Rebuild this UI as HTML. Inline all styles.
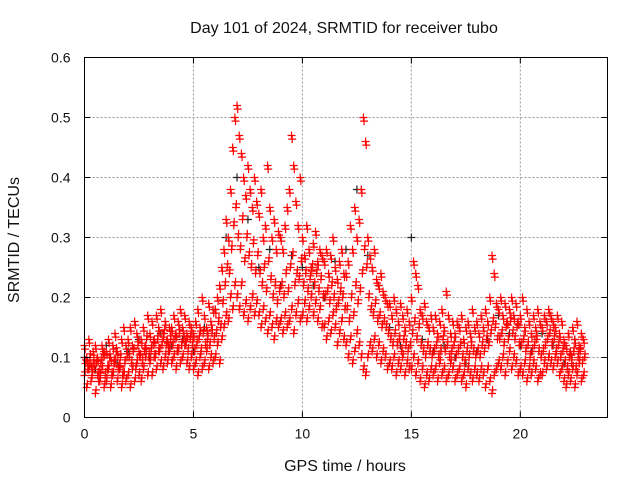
<!DOCTYPE html>
<html><head><meta charset="utf-8"><style>
html,body{margin:0;padding:0;background:#fff;}
svg{display:block;font-family:"Liberation Sans",sans-serif;}
</style></head><body>
<svg id="chart" width="640" height="480">
<g id="grid"></g>
<g id="black"></g>
<g id="red"></g>
<rect x="84.5" y="57.5" width="523" height="360" fill="none" stroke="#000" stroke-width="1"/>
<g id="ticks"></g>
<text x="344" y="33" font-size="16" text-anchor="middle" fill="#111">Day 101 of 2024, SRMTID for receiver tubo</text>
<text x="345" y="471" font-size="16" text-anchor="middle" fill="#111">GPS time / hours</text>
<text x="19" y="240" font-size="16" text-anchor="middle" fill="#111" transform="rotate(-90 19 240)">SRMTID / TECUs</text>
</svg>
<script>
const xTicks=[0,5,10,15,20];
const yTicks=[0,0.1,0.2,0.3,0.4,0.5,0.6];
const yTickLabels=["0","0.1","0.2","0.3","0.4","0.5","0.6"];
const redT=[0,0.1,0.2,0.3,0.4,0.5,0.6,0.7,0.8,0.9,1,1.1,1.2,1.3,1.4,1.5,1.6,1.7,1.8,1.9,2,2.1,2.2,2.3,2.4,2.5,2.6,2.7,2.8,2.9,3,3.1,3.2,3.3,3.4,3.5,3.6,3.7,3.8,3.9,4,4.1,4.2,4.3,4.4,4.5,4.6,4.7,4.8,4.9,5,5.1,5.2,5.3,5.4,5.5,5.6,5.7,5.8,5.9,6,6.1,6.2,6.3,6.4,6.5,6.6,6.7,6.8,6.9,7,7.1,7.2,7.3,7.4,7.5,7.6,7.7,7.8,7.9,8,8.1,8.2,8.3,8.4,8.5,8.6,8.7,8.8,8.9,9,9.1,9.2,9.3,9.4,9.5,9.6,9.7,9.8,9.9,10,10.1,10.2,10.3,10.4,10.5,10.6,10.7,10.8,10.9,11,11.1,11.2,11.3,11.4,11.5,11.6,11.7,11.8,11.9,12,12.1,12.2,12.3,12.4,12.5,12.6,12.7,12.8,12.9,13,13.1,13.2,13.3,13.4,13.5,13.6,13.7,13.8,13.9,14,14.1,14.2,14.3,14.4,14.5,14.6,14.7,14.8,14.9,15,15.1,15.2,15.3,15.4,15.5,15.6,15.7,15.8,15.9,16,16.1,16.2,16.3,16.4,16.5,16.6,16.7,16.8,16.9,17,17.1,17.2,17.3,17.4,17.5,17.6,17.7,17.8,17.9,18,18.1,18.2,18.3,18.4,18.5,18.6,18.7,18.8,18.9,19,19.1,19.2,19.3,19.4,19.5,19.6,19.7,19.8,19.9,20,20.1,20.2,20.3,20.4,20.5,20.6,20.7,20.8,20.9,21,21.1,21.2,21.3,21.4,21.5,21.6,21.7,21.8,21.9,22,22.1,22.2,22.3,22.4,22.5,22.6,22.7,22.8,22.9];
const redA=[.07,.05,.08,.06,.09,.04,.07,.06,.08,.05,.06,.08,.05,.07,.09,.06,.08,.05,.07,.06,.07,.05,.08,.06,.09,.07,.06,.08,.10,.07,.09,.07,.10,.08,.11,.09,.08,.10,.09,.11,.09,.10,.08,.11,.09,.10,.12,.09,.08,.10,.08,.09,.07,.10,.08,.09,.11,.08,.10,.09,.10,.12,.09,.13,.15,.17,.16,.20,.18,.22,.20,.18,.22,.17,.19,.16,.18,.20,.17,.19,.17,.15,.18,.16,.14,.17,.15,.13,.16,.15,.16,.14,.17,.15,.16,.18,.14,.17,.19,.16,.17,.19,.16,.18,.20,.17,.19,.16,.18,.15,.15,.13,.16,.14,.17,.15,.12,.14,.16,.13,.12,.10,.13,.09,.11,.14,.12,.10,.08,.07,.10,.12,.11,.13,.10,.12,.09,.11,.10,.08,.09,.08,.10,.07,.09,.08,.10,.07,.09,.08,.08,.10,.07,.09,.06,.08,.05,.07,.06,.08,.07,.08,.06,.09,.07,.08,.06,.07,.09,.08,.06,.07,.08,.06,.07,.05,.08,.07,.06,.08,.07,.06,.08,.07,.05,.08,.06,.04,.07,.08,.09,.08,.10,.07,.09,.11,.08,.10,.09,.07,.08,.07,.09,.06,.08,.07,.09,.08,.06,.07,.07,.09,.08,.10,.09,.08,.10,.09,.07,.08,.06,.05,.07,.06,.08,.05,.07,.09,.06,.07];
const redB=[.12,.10,.13,.09,.11,.12,.10,.08,.12,.11,.11,.13,.10,.12,.14,.11,.09,.13,.15,.12,.13,.15,.12,.16,.14,.11,.13,.15,.12,.17,.14,.16,.13,.17,.15,.18,.14,.16,.13,.15,.15,.17,.14,.16,.18,.15,.17,.14,.16,.15,.14,.16,.18,.15,.20,.17,.15,.19,.16,.18,.18,.20,.22,.25,.28,.33,.30,.38,.45,.50,.52,.47,.44,.40,.37,.42,.38,.35,.40,.36,.34,.38,.30,.32,.42,.35,.30,.33,.28,.31,.30,.28,.32,.35,.38,.47,.42,.36,.32,.40,.30,.27,.32,.28,.25,.29,.31,.26,.28,.27,.26,.28,.24,.27,.30,.25,.23,.26,.28,.24,.24,.26,.32,.28,.35,.30,.33,.38,.50,.46,.30,.27,.25,.28,.23,.22,.24,.21,.20,.19,.19,.17,.20,.18,.16,.19,.17,.15,.18,.16,.20,.26,.24,.22,.18,.17,.19,.16,.15,.17,.15,.17,.14,.16,.18,.15,.21,.17,.14,.16,.14,.16,.15,.17,.13,.15,.16,.14,.18,.15,.16,.14,.17,.15,.18,.16,.20,.27,.24,.19,.18,.20,.17,.19,.16,.18,.20,.17,.19,.16,.17,.20,.15,.18,.16,.14,.17,.15,.18,.16,.15,.17,.16,.18,.17,.16,.15,.17,.14,.16,.13,.12,.14,.11,.15,.13,.16,.12,.14,.13];
const redC=[.09,.08,.10,.07,.08,.09,.06,.09,.10,.07,.08,.10,.07,.09,.11,.08,.10,.07,.09,.10,.10,.09,.11,.08,.12,.10,.09,.11,.13,.10,.11,.12,.10,.13,.11,.12,.14,.12,.11,.13,.12,.13,.11,.14,.12,.13,.12,.11,.13,.12,.11,.12,.13,.11,.14,.12,.13,.12,.14,.13,.14,.16,.15,.19,.22,.25,.24,.28,.32,.35,.30,.28,.33,.26,.30,.27,.25,.29,.24,.27,.24,.22,.25,.21,.26,.23,.20,.22,.19,.21,.22,.20,.24,.21,.25,.27,.22,.24,.23,.26,.22,.24,.21,.23,.25,.22,.24,.21,.23,.20,.20,.21,.19,.22,.20,.18,.19,.21,.20,.18,.18,.16,.20,.17,.22,.19,.21,.24,.28,.25,.20,.18,.17,.19,.16,.17,.15,.16,.15,.14,.13,.12,.14,.12,.13,.11,.13,.12,.11,.12,.14,.16,.13,.15,.12,.11,.10,.12,.11,.10,.11,.12,.10,.11,.13,.11,.12,.10,.11,.12,.10,.11,.12,.10,.09,.11,.10,.12,.11,.10,.11,.10,.12,.11,.13,.12,.14,.16,.15,.13,.13,.14,.12,.15,.13,.16,.14,.13,.15,.12,.12,.13,.11,.12,.10,.11,.12,.13,.11,.10,.11,.12,.13,.14,.12,.13,.11,.12,.10,.11,.09,.08,.10,.09,.11,.08,.10,.11,.09,.10];
const blackT=[0,0.5,1,1.5,2,2.5,3,3.5,4,4.5,5,5.5,6,6.5,7,7.5,8,8.5,9,9.5,10,10.5,11,11.5,12,12.5,13,13.5,14,14.5,15,15.5,16,16.5,17,17.5,18,18.5,19,19.5,20,20.5,21,21.5,22,22.5];
const blackV=[.10,.08,.12,.09,.11,.13,.10,.14,.12,.13,.11,.15,.18,.30,.40,.33,.25,.28,.22,.27,.25,.22,.20,.26,.28,.38,.27,.22,.15,.12,.30,.13,.11,.12,.10,.09,.11,.13,.17,.14,.12,.11,.14,.12,.09,.13];

const X0=84.5,X1=607.5,Y0=417.5,Y1=57.5;
const xs=t=>X0+(t/24)*(X1-X0);
const ys=v=>Y0-(v/0.6)*(Y0-Y1);
const NS="http://www.w3.org/2000/svg";
function mk(tag,attrs,parent){const e=document.createElementNS(NS,tag);for(const k in attrs)e.setAttribute(k,attrs[k]);parent.appendChild(e);return e;}
const grid=document.getElementById('grid'),ticks=document.getElementById('ticks');
xTicks.forEach(t=>{const x=xs(t);
 if(t>0){const g=mk('line',{x1:x,x2:x,y1:Y1,y2:Y0,stroke:'#999','stroke-dasharray':'2,2'},grid);
 
 }
 const l=mk('text',{x:x,y:Y0+21,'font-size':14,'text-anchor':'middle',fill:'#111'},ticks);l.textContent=t;
 
 
 mk('line',{x1:x,x2:x,y1:Y0,y2:Y0-6,stroke:'#000'},ticks);mk('line',{x1:x,x2:x,y1:Y1,y2:Y1+6,stroke:'#000'},ticks);});
yTicks.forEach((v,i)=>{const y=ys(v);
 if(i>0&&i<yTicks.length-1){const g=mk('line',{x1:X0,x2:X1,y1:y,y2:y,stroke:'#999','stroke-dasharray':'2,2'},grid);
 
 }
 const l=mk('text',{x:X0-14,y:y+5,'font-size':14,'text-anchor':'end',fill:'#111'},ticks);l.textContent=yTickLabels[i];
 
 
 mk('line',{x1:X0,x2:X0+6,y1:y,y2:y,stroke:'#000'},ticks);mk('line',{x1:X1,x2:X1-6,y1:y,y2:y,stroke:'#000'},ticks);});
function plus(g,t,v,col){const x=xs(t),y=ys(v);
 const p=mk('path',{d:`M${x-4},${y}H${x+4}M${x},${y-4}V${y+4}`,stroke:col,'stroke-width':1.2,fill:'none'},g);
 
 }
const bg=document.getElementById('black'),rg=document.getElementById('red');
blackT.forEach((t,i)=>plus(bg,t,blackV[i],'#222'));
redT.forEach((t,i)=>{
 plus(rg,t,redA[i],'#f00');plus(rg,t+0.03,redA[i]+0.006,'#f00');
 plus(rg,t,redB[i],'#f00');plus(rg,t+0.03,redB[i]-0.006,'#f00');
 plus(rg,t+0.05,redC[i],'#f00');plus(rg,t+0.07,redC[i]+0.006,'#f00');});
</script>
</body></html>
